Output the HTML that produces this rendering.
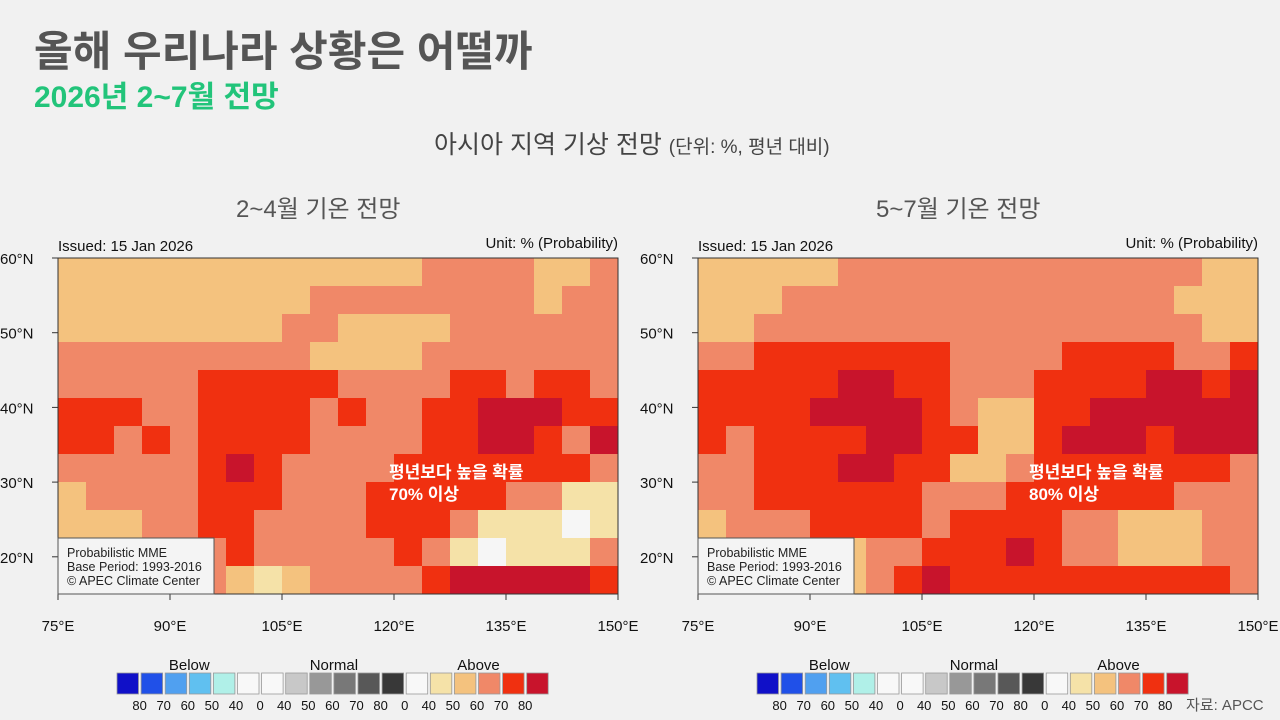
<!DOCTYPE html>
<html><head><meta charset="utf-8">
<style>
body{margin:0;width:1280px;height:720px;background:#f1f1f1;font-family:"Liberation Sans","Noto Sans CJK KR",sans-serif;overflow:hidden;position:relative}
.a{position:absolute;white-space:nowrap}
</style></head><body>
<div class="a" style="left:34px;top:18px;font-size:42px;color:#555;font-weight:bold">올해 우리나라 상황은 어떨까</div>
<div class="a" style="left:34px;top:72px;font-size:30px;color:#22c47a;font-weight:bold">2026년 2~7월 전망</div>
<div class="a" style="left:434px;top:125px;font-size:25px;color:#444">아시아 지역 기상 전망 <span style="font-size:19px">(단위: %, 평년 대비)</span></div>
<div class="a" style="left:236px;top:189px;font-size:24px;color:#555">2~4월 기온 전망</div>
<div class="a" style="left:876px;top:189px;font-size:24px;color:#555">5~7월 기온 전망</div>
<svg id="s" width="1280" height="720" style="position:absolute;left:0;top:0" font-family="Liberation Sans, Noto Sans CJK KR, sans-serif"></svg>
<div class="a" style="left:1186px;top:694px;font-size:15px;color:#555">자료: APCC</div>
<script>
var C={T:"#f4c27e",S:"#f08868",R:"#f03010",D:"#c8142c",Y:"#f5e2a8",W:"#f6f6f6"};
var L=["TTTTTTTTTTTTTSSSSTTS","TTTTTTTTTSSSSSSSSTSS","TTTTTTTTSSTTTTSSSSSS","SSSSSSSSSTTTTSSSSSSS","SSSSSRRRRRSSSSRRSRRS","RRRSSRRRRSRSSRRDDDRR","RRSRSRRRRSSSSRRDDRSD","SSSSSRDRSSSSRRRRRRRS","TSSSSRRRSSSRRRRRSSYY","TTTSSRRSSSSRRRSYYYWY","TTTTTSRSSSSSRSYWYYYS","TTTTTSTYTSSSSRDDDDDR"];
var R=["TTTTTSSSSSSSSSSSSSTT","TTTSSSSSSSSSSSSSSTTT","TTSSSSSSSSSSSSSSSSTT","SSRRRRRRRSSSSRRRRSSR","RRRRRDDRRSSSRRRRDDRD","RRRRDDDDRSTTRRDDDDDD","RSRRRRDDRRTTRDDDRDDD","SSRRRDDRRTTSRRRRRRRS","SSRRRRRRSSSRRRRRRSSS","TSSSRRRRSRRRRSSTTTSS","TTSSSTSSRRRDRSSTTTSS","TTSSSTSRDRRRRRRRRRRS"];
var h="";
function map(g,x0,txt){
 for(var r=0;r<12;r++)for(var c=0;c<20;c++)h+='<rect x="'+(x0+c*28)+'" y="'+(258+r*28)+'" width="28.5" height="28.5" fill="'+C[g[r][c]]+'"/>';
 h+='<rect x="'+x0+'" y="258" width="560" height="336" fill="none" stroke="#333" stroke-width="1"/>';
 h+='<text x="'+x0+'" y="251" font-size="15" fill="#111">Issued: 15 Jan 2026</text>';
 h+='<text x="'+(x0+560)+'" y="248" font-size="15" fill="#111" text-anchor="end">Unit: % (Probability)</text>';
 var la=["60°N","50°N","40°N","30°N","20°N"];
 for(var i=0;i<5;i++){var y=258+i*74.7;h+='<text x="'+(x0-58)+'" y="'+(y+6)+'" font-size="15" fill="#111">'+la[i]+'</text><line x1="'+(x0-6)+'" x2="'+x0+'" y1="'+y+'" y2="'+y+'" stroke="#333"/>';}
 var lo=["75°E","90°E","105°E","120°E","135°E","150°E"];
 for(var i=0;i<6;i++){var x=x0+i*112;h+='<line x1="'+x+'" x2="'+x+'" y1="594" y2="600" stroke="#333"/><text x="'+x+'" y="631" font-size="15" fill="#111" text-anchor="middle">'+lo[i]+'</text>';}
 h+='<rect x="'+x0+'" y="538" width="156" height="56" fill="#f4f4f4" stroke="#555"/>';
 h+='<text x="'+(x0+9)+'" y="557" font-size="12.5" fill="#222">Probabilistic MME</text><text x="'+(x0+9)+'" y="571" font-size="12.5" fill="#222">Base Period: 1993-2016</text><text x="'+(x0+9)+'" y="585" font-size="12.5" fill="#222">© APEC Climate Center</text>';
 h+='<text x="'+(x0+331)+'" y="478" font-size="17" fill="#fff" font-weight="bold">평년보다 높을 확률</text><text x="'+(x0+331)+'" y="500" font-size="17" fill="#fff" font-weight="bold">'+txt+'</text>';
 var lc=["#1010c8","#2050e8","#50a0f0","#60c0f0","#b0f0e8","#f8f8f8","#f8f8f8","#c8c8c8","#989898","#787878","#585858","#383838","#f8f8f8","#f5e2a8","#f4c27e","#f08868","#f03010","#c8142c"];
 var lx=x0+59,p=24.1;
 for(var i=0;i<18;i++)h+='<rect x="'+(lx+i*p)+'" y="673" width="21.5" height="21" fill="'+lc[i]+'" stroke="#999" stroke-width="0.8"/>';
 var lb=["80","70","60","50","40","0","40","50","60","70","80","0","40","50","60","70","80"];
 for(var i=0;i<17;i++)h+='<text x="'+(lx+(i+1)*p-1.5)+'" y="710" font-size="13" fill="#111" text-anchor="middle">'+lb[i]+'</text>';
 h+='<text x="'+(lx+3*p)+'" y="670" font-size="15" fill="#111" text-anchor="middle">Below</text><text x="'+(lx+9*p)+'" y="670" font-size="15" fill="#111" text-anchor="middle">Normal</text><text x="'+(lx+15*p)+'" y="670" font-size="15" fill="#111" text-anchor="middle">Above</text>';
}
map(L,58,"70% 이상");map(R,698,"80% 이상");
document.getElementById("s").innerHTML=h;
</script>
</body></html>
